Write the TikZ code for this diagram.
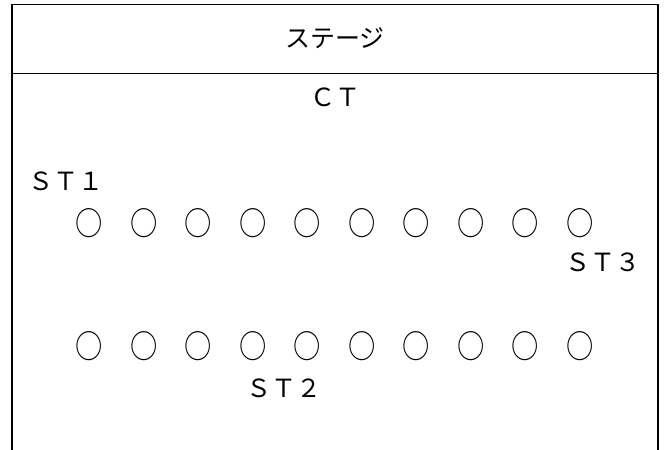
\documentclass[tikz,border=0pt]{standalone}
\usepackage{fontspec}
\setmainfont{Noto Sans CJK JP}
\begin{document}
\begin{tikzpicture}[x=1pt,y=-1pt,
  frame/.style={line width=1.7pt,line cap=rect},
  lbl/.style={inner sep=0pt,font=\fontsize{25}{30}\selectfont},
  seat/.style={inner sep=0pt,font=\fontsize{26}{30}\selectfont}]
\useasboundingbox (0,0) rectangle (665,450);
\draw[frame] (12,450) -- (12,4.5) -- (658,4.5) -- (658,450);
\draw[frame] (12,73.5) -- (658,73.5);
\node[lbl] (stage) at (335,38) {ステージ};
\node[lbl] (ct) at (335,97) {ＣＴ};
\node[lbl] (st1) at (66,181) {ＳＴ１};
\node[lbl] (st3) at (603,262) {ＳＴ３};
\node[lbl] (st2) at (284,388) {ＳＴ２};
\foreach \i in {0,...,9}{
  \node[seat] (a\i) at ({89.5+54.5*\i},223) {\scalebox{1.05}[1.25]{○}};
  \node[seat] (b\i) at ({89.5+54.5*\i},346) {\scalebox{1.05}[1.25]{○}};
}
\end{tikzpicture}
\end{document}
